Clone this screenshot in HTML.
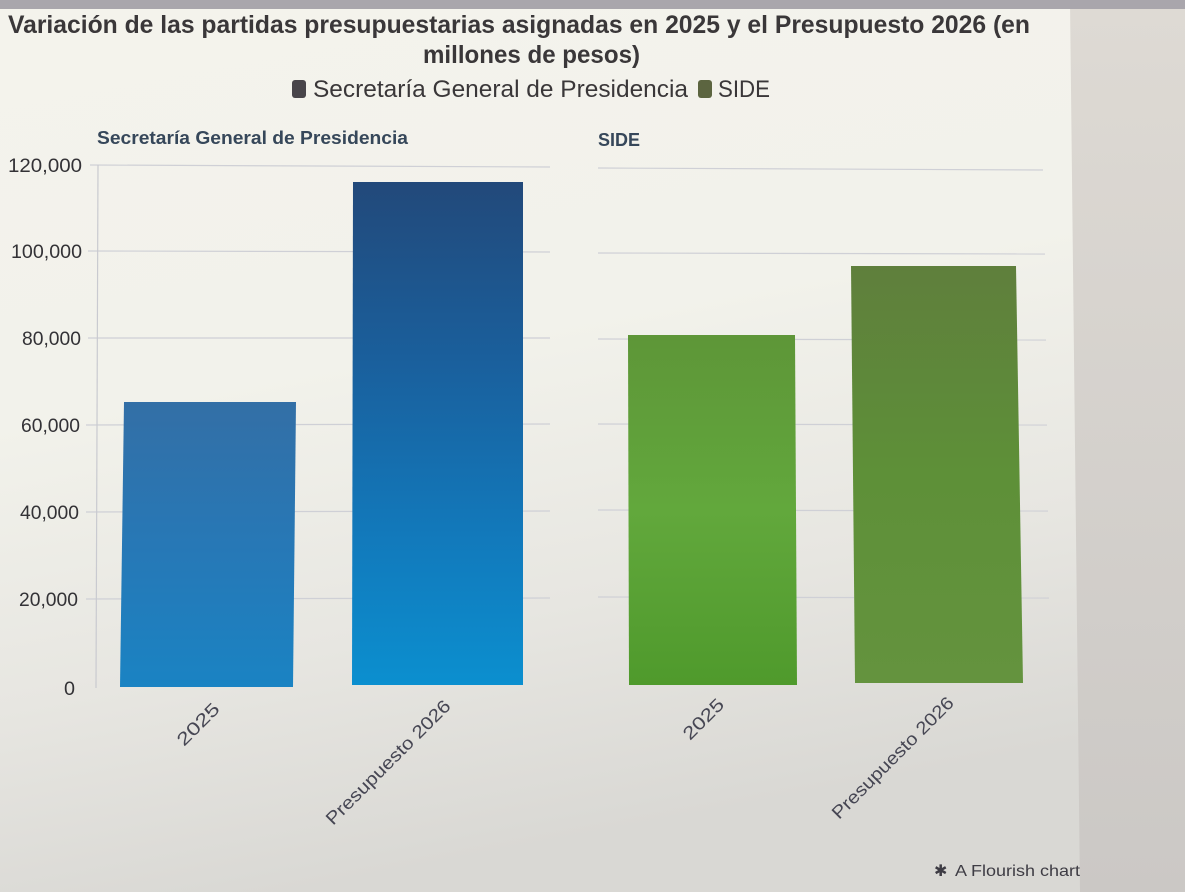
<!DOCTYPE html>
<html><head><meta charset="utf-8">
<style>
html,body{margin:0;padding:0;width:1185px;height:892px;overflow:hidden;background:#e9e8e3;}
svg{display:block}
</style></head>
<body>
<svg width="1185" height="892" viewBox="0 0 1185 892" xmlns="http://www.w3.org/2000/svg">
<defs>
<linearGradient id="bg" x1="0" y1="0" x2="0.25" y2="1">
<stop offset="0" stop-color="#f4f3ec"/>
<stop offset="0.45" stop-color="#f2f2eb"/>
<stop offset="0.75" stop-color="#e7e6e1"/>
<stop offset="1" stop-color="#d9d8d4"/>
</linearGradient>
<linearGradient id="bgR" x1="0" y1="0" x2="0" y2="1">
<stop offset="0" stop-color="#dedad4"/>
<stop offset="1" stop-color="#cbc8c5"/>
</linearGradient>
<linearGradient id="b1" x1="0" y1="0" x2="0" y2="1">
<stop offset="0" stop-color="#336fa6"/>
<stop offset="0.5" stop-color="#2778b6"/>
<stop offset="1" stop-color="#1a83c3"/>
</linearGradient>
<linearGradient id="b2" x1="0" y1="0" x2="0" y2="1">
<stop offset="0" stop-color="#22497a"/>
<stop offset="0.35" stop-color="#1a5f9c"/>
<stop offset="0.7" stop-color="#1279bb"/>
<stop offset="1" stop-color="#0b8fcf"/>
</linearGradient>
<linearGradient id="g1" x1="0" y1="0" x2="0" y2="1">
<stop offset="0" stop-color="#5e9638"/>
<stop offset="0.5" stop-color="#62a83c"/>
<stop offset="1" stop-color="#4f9a2c"/>
</linearGradient>
<linearGradient id="g2" x1="0" y1="0" x2="0" y2="1">
<stop offset="0" stop-color="#5f7f3c"/>
<stop offset="0.5" stop-color="#5e9038"/>
<stop offset="1" stop-color="#64933e"/>
</linearGradient>
</defs>
<rect x="0" y="0" width="1185" height="892" fill="url(#bg)"/>
<polygon points="1070,0 1185,0 1185,892 1080,892" fill="url(#bgR)"/>
<rect x="0" y="0" width="1185" height="9" fill="#a9a6ac"/>

<!-- Title -->
<g font-family="'Liberation Sans', sans-serif" fill="#3a3739">
<text x="8" y="33" font-size="25" font-weight="bold" textLength="1022" lengthAdjust="spacingAndGlyphs">Variación de las partidas presupuestarias asignadas en 2025 y el Presupuesto 2026 (en</text>
<text x="423" y="63" font-size="25" font-weight="bold" textLength="217" lengthAdjust="spacingAndGlyphs">millones de pesos)</text>
<rect x="292" y="80" width="14" height="18" rx="3" fill="#48454a"/>
<text x="313" y="97" font-size="24" textLength="375" lengthAdjust="spacingAndGlyphs">Secretaría General de Presidencia</text>
<rect x="698" y="80" width="14" height="18" rx="3" fill="#5c6540"/>
<text x="718" y="97" font-size="24" textLength="52" lengthAdjust="spacingAndGlyphs">SIDE</text>
</g>

<!-- Subplot titles -->
<g font-family="'Liberation Sans', sans-serif" font-weight="bold" fill="#36475a" font-size="18">
<text x="97" y="144" textLength="311" lengthAdjust="spacingAndGlyphs">Secretaría General de Presidencia</text>
<text x="598" y="146" textLength="42" lengthAdjust="spacingAndGlyphs">SIDE</text>
</g>

<!-- Gridlines -->
<g stroke="#cfd0d6" stroke-width="1.2">
<line x1="90" y1="165" x2="550" y2="167"/>
<line x1="88" y1="251" x2="550" y2="252"/>
<line x1="88" y1="338" x2="550" y2="338"/>
<line x1="86" y1="425" x2="550" y2="424"/>
<line x1="86" y1="512" x2="550" y2="511"/>
<line x1="86" y1="599" x2="550" y2="598"/>
<line x1="598" y1="168" x2="1043" y2="170"/>
<line x1="598" y1="253" x2="1045" y2="254"/>
<line x1="598" y1="339" x2="1046" y2="340"/>
<line x1="598" y1="424" x2="1047" y2="425"/>
<line x1="598" y1="510" x2="1048" y2="511"/>
<line x1="598" y1="597" x2="1049" y2="598"/>
<line x1="98" y1="165" x2="96" y2="688" stroke="#c9cad0"/>
</g>

<!-- Y labels -->
<g font-family="'Liberation Sans', sans-serif" fill="#333236" font-size="19">
<text x="8" y="172" textLength="74" lengthAdjust="spacingAndGlyphs">120,000</text>
<text x="11" y="258" textLength="71" lengthAdjust="spacingAndGlyphs">100,000</text>
<text x="22" y="345" textLength="59" lengthAdjust="spacingAndGlyphs">80,000</text>
<text x="21" y="432" textLength="59" lengthAdjust="spacingAndGlyphs">60,000</text>
<text x="20" y="519" textLength="59" lengthAdjust="spacingAndGlyphs">40,000</text>
<text x="19" y="606" textLength="59" lengthAdjust="spacingAndGlyphs">20,000</text>
<text x="64" y="695" textLength="11" lengthAdjust="spacingAndGlyphs">0</text>
</g>

<!-- Bars -->
<polygon points="124,402 296,402 293,687 120,687" fill="url(#b1)"/>
<polygon points="353,182 523,182 523,685 352,685" fill="url(#b2)"/>
<polygon points="628,335 795,335 797,685 629,685" fill="url(#g1)"/>
<polygon points="851,266 1016,266 1023,683 855,683" fill="url(#g2)"/>

<!-- X labels -->
<g font-family="'Liberation Sans', sans-serif" fill="#464653" font-size="18">
<text transform="translate(184,747) rotate(-45)" textLength="52" lengthAdjust="spacingAndGlyphs">2025</text>
<text transform="translate(333,826) rotate(-45)" textLength="168" lengthAdjust="spacingAndGlyphs">Presupuesto 2026</text>
<text transform="translate(690,741) rotate(-45)" textLength="50" lengthAdjust="spacingAndGlyphs">2025</text>
<text transform="translate(839,820) rotate(-45)" textLength="164" lengthAdjust="spacingAndGlyphs">Presupuesto 2026</text>
</g>

<!-- Flourish credit -->
<g font-family="'Liberation Sans', sans-serif" fill="#3e3c44" font-size="16">
<text x="934" y="876">✱</text>
<text x="955" y="876" textLength="125" lengthAdjust="spacingAndGlyphs">A Flourish chart</text>
</g>
</svg>
</body></html>
